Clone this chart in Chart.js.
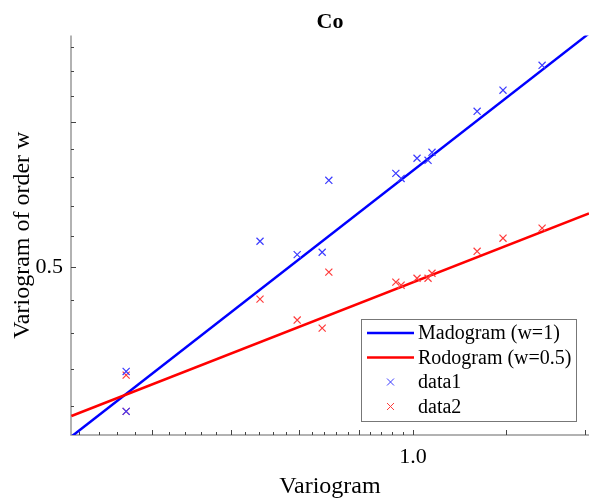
<!DOCTYPE html>
<html>
<head>
<meta charset="utf-8">
<script src="https://cdn.jsdelivr.net/npm/chart.js"></script>
<style>
  body { margin: 0; background: #fff; }
  #wrap { width: 589px; height: 503px; position: relative; }
</style>
</head>
<body>
<div id="wrap"><canvas id="myChart"></canvas></div>
<script>
// values (log-log axes)
const variogram = [0.570, 0.570, 0.741, 0.797, 0.837, 0.848, 0.967, 0.977, 1.008, 1.030, 1.038, 1.134, 1.193, 1.288];
const data1 = [0.4385, 0.417, 0.5166, 0.508, 0.5095, 0.5578, 0.5627, 0.5591, 0.5735, 0.572, 0.5778, 0.6084, 0.6248, 0.6447];
const data2 = [0.4365, 0.417, 0.4803, 0.4678, 0.4631, 0.4969, 0.4907, 0.4888, 0.4931, 0.4931, 0.4962, 0.5101, 0.5186, 0.5252];

// fitted lines, end points only
const fitX = [0.512, 1.412];
const madogramFit = [0.404, 0.671];
const rodogramFit = [0.4146, 0.535];

const xRange = [0.5116, 1.412];
const yRange = [0.4048, 0.6694];

const xTicks = [0.52, 0.54, 0.56, 0.58, 0.6, 0.62, 0.64, 0.66, 0.68, 0.7, 0.72, 0.74, 0.76, 0.78, 0.8,
  0.82, 0.84, 0.86, 0.88, 0.9, 0.92, 0.94, 0.96, 0.98, 1.0, 1.2, 1.4];
const xMajor = [0.6, 0.7, 0.8, 0.9, 1.0, 1.2, 1.4];
const xLabels = { '1': '1.0' };
const yTicks = [0.42, 0.44, 0.46, 0.48, 0.5, 0.52, 0.54, 0.56, 0.58, 0.6, 0.62, 0.64, 0.66];
const yMajor = [0.5, 0.6];
const yLabels = { '0.5': '0.5' };

const serif = "'Liberation Serif', 'Times New Roman', serif";
const blue = 'rgb(0,0,255)';
const red = 'rgb(255,0,0)';

const pairs = (xs, ys) => xs.map((x, i) => ({ x: x, y: ys[i] }));
const isIn = (arr, v) => arr.some(a => Math.abs(a - v) < 1e-9);

// axis lines + inward ticks, matlab style
const axesPlugin = {
  id: 'axesLines',
  beforeDatasetsDraw(chart) {
    const { ctx, chartArea: a, scales } = chart;
    ctx.save();
    ctx.strokeStyle = '#999';
    ctx.lineWidth = 1.5;
    ctx.beginPath();
    ctx.moveTo(a.left, a.top);
    ctx.lineTo(a.left, a.bottom);
    ctx.lineTo(a.right, a.bottom);
    ctx.stroke();

    ctx.strokeStyle = '#444';
    ctx.lineWidth = 1;
    ctx.beginPath();
    scales.x.ticks.forEach(t => {
      const px = Math.round(scales.x.getPixelForValue(t.value)) + 0.5;
      const len = isIn(xMajor, t.value) ? 5 : 3;
      ctx.moveTo(px, a.bottom);
      ctx.lineTo(px, a.bottom - len);
    });
    scales.y.ticks.forEach(t => {
      const py = Math.round(scales.y.getPixelForValue(t.value)) + 0.5;
      const len = isIn(yMajor, t.value) ? 5 : 3;
      ctx.moveTo(a.left, py);
      ctx.lineTo(a.left + len, py);
    });
    ctx.stroke();
    ctx.restore();
  }
};

// legend box inside the plot, lower right
const legendPlugin = {
  id: 'boxLegend',
  afterDraw(chart) {
    const ctx = chart.ctx;
    const bx = 361, by = 319, bw = 215, bh = 102;
    ctx.save();
    ctx.fillStyle = '#fff';
    ctx.fillRect(bx, by, bw, bh);
    ctx.strokeStyle = '#777';
    ctx.lineWidth = 1;
    ctx.strokeRect(bx + 0.5, by + 0.5, bw, bh);
    ctx.font = '20px ' + serif;
    ctx.textBaseline = 'middle';
    ctx.fillStyle = '#000';
    chart.data.datasets.forEach((ds, i) => {
      const y = by + 14 + i * 24.5;
      if (ds.showLine) {
        ctx.strokeStyle = ds.borderColor;
        ctx.lineWidth = 2.5;
        ctx.beginPath();
        ctx.moveTo(367, y);
        ctx.lineTo(414, y);
        ctx.stroke();
      } else {
        ctx.strokeStyle = ds.pointBorderColor;
        ctx.lineWidth = 1;
        ctx.beginPath();
        ctx.moveTo(387, y - 3.5); ctx.lineTo(394, y + 3.5);
        ctx.moveTo(387, y + 3.5); ctx.lineTo(394, y - 3.5);
        ctx.stroke();
      }
      ctx.fillText(ds.label, 418, y + 1);
    });
    ctx.restore();
  }
};

new Chart(document.getElementById('myChart').getContext('2d'), {
  type: 'scatter',
  data: {
    datasets: [
      {
        label: 'Madogram (w=1)',
        data: pairs(fitX, madogramFit),
        showLine: true,
        borderColor: blue,
        borderWidth: 2.5,
        pointRadius: 0,
        order: 2
      },
      {
        label: 'Rodogram (w=0.5)',
        data: pairs(fitX, rodogramFit),
        showLine: true,
        borderColor: red,
        borderWidth: 2.5,
        pointRadius: 0,
        order: 1
      },
      {
        label: 'data1',
        data: pairs(variogram, data1),
        showLine: false,
        pointStyle: 'crossRot',
        pointRadius: 5,
        pointBorderWidth: 1.2,
        pointBorderColor: 'rgb(60,60,255)',
        order: 0
      },
      {
        label: 'data2',
        data: pairs(variogram, data2),
        showLine: false,
        pointStyle: 'crossRot',
        pointRadius: 5,
        pointBorderWidth: 1.2,
        pointBorderColor: 'rgb(255,60,60)',
        order: 0
      }
    ]
  },
  options: {
    responsive: true,
    maintainAspectRatio: false,
    animation: false,
    events: [],
    layout: { padding: 0, autoPadding: false },
    plugins: {
      legend: { display: false },
      tooltip: { enabled: false },
      title: {
        display: true,
        fullSize: false,
        text: 'Co',
        color: '#000',
        font: { family: serif, size: 22, weight: 'bold' },
        padding: { top: 9, bottom: 0 }
      }
    },
    scales: {
      x: {
        type: 'logarithmic',
        position: 'bottom',
        min: xRange[0],
        max: xRange[1],
        bounds: 'data',
        grid: { display: false, drawTicks: false },
        border: { display: false },
        afterBuildTicks: s => { s.ticks = xTicks.map(v => ({ value: v })); },
        afterFit: s => { s.height = 68; s.paddingLeft = 0; s.paddingRight = 0; },
        ticks: {
          autoSkip: false,
          maxRotation: 0,
          padding: 9,
          color: '#000',
          font: { family: serif, size: 22 },
          callback: v => xLabels[String(+v.toFixed(4))] || ''
        },
        title: {
          display: true,
          text: 'Variogram',
          color: '#000',
          font: { family: serif, size: 24 },
          padding: { top: 0, bottom: 2 }
        }
      },
      y: {
        type: 'logarithmic',
        position: 'left',
        min: yRange[0],
        max: yRange[1],
        bounds: 'data',
        grid: { display: false, drawTicks: false },
        border: { display: false },
        afterBuildTicks: s => { s.ticks = yTicks.map(v => ({ value: v })); },
        afterFit: s => { s.width = 71; s.paddingTop = 0; s.paddingBottom = 0; },
        ticks: {
          autoSkip: false,
          padding: 8,
          color: '#000',
          font: { family: serif, size: 22 },
          callback: v => yLabels[String(+v.toFixed(4))] || ''
        },
        title: {
          display: true,
          text: 'Variogram of order w',
          color: '#000',
          font: { family: serif, size: 24 },
          padding: { top: 8, bottom: 0 }
        }
      }
    }
  },
  plugins: [axesPlugin, legendPlugin]
});
</script>
</body>
</html>
